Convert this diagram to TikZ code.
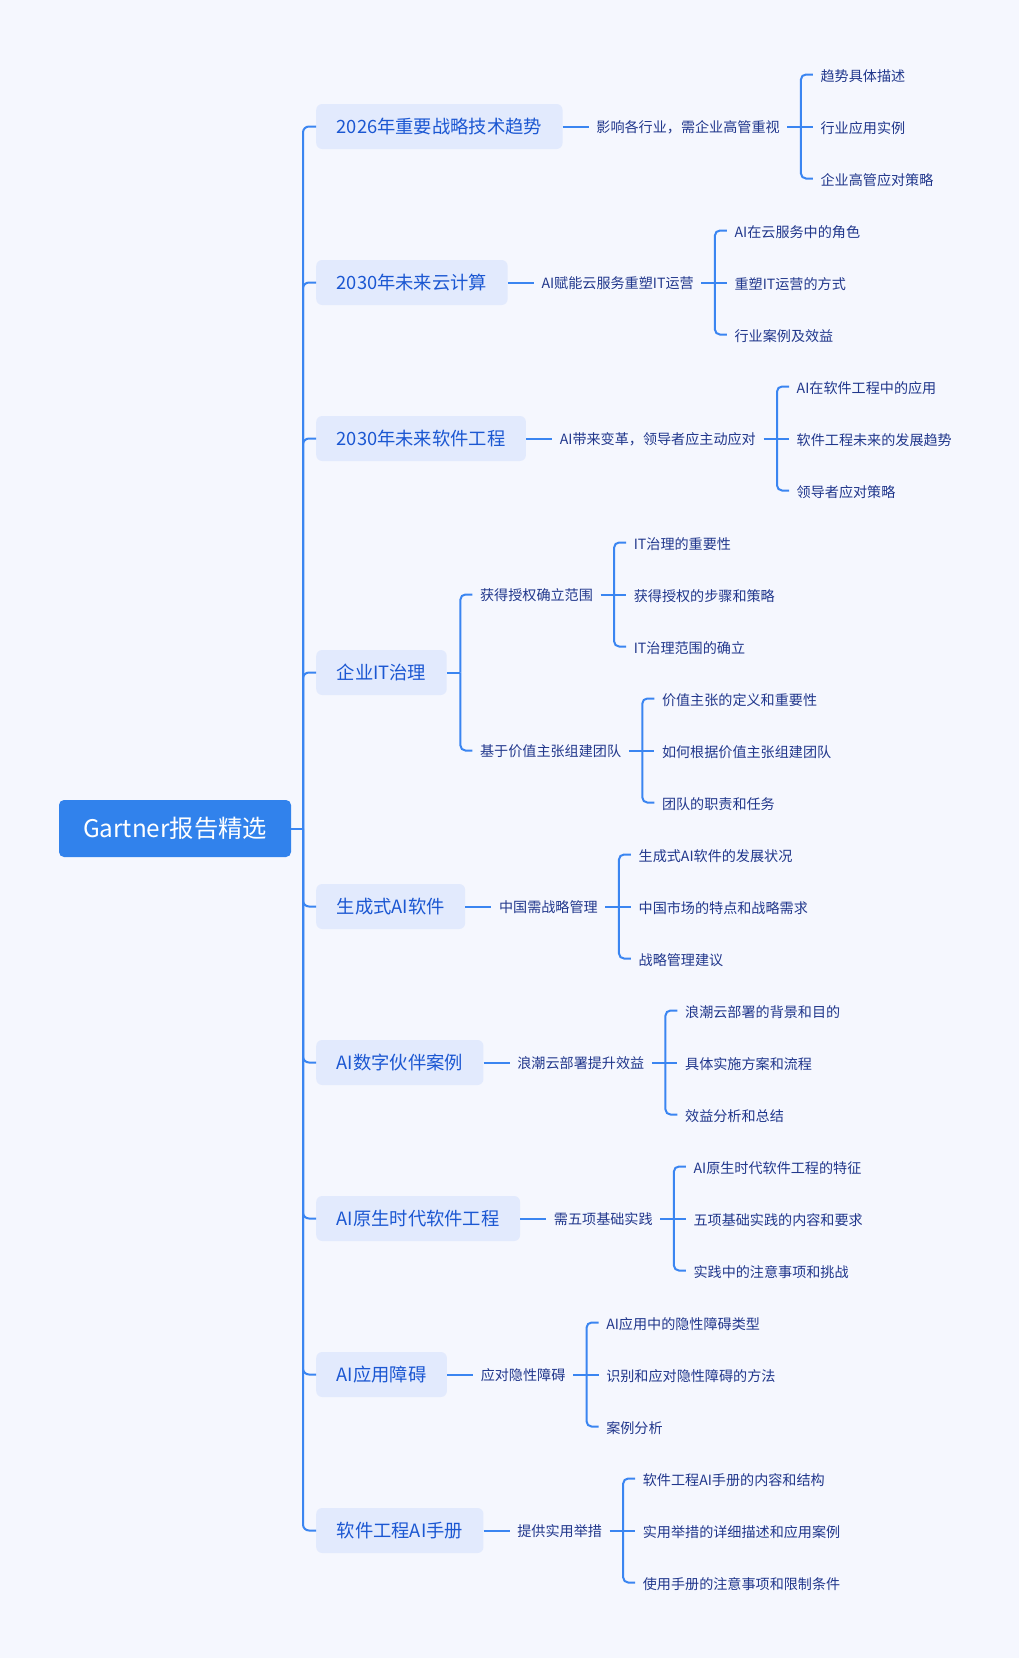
\documentclass[tikz,border=0pt]{standalone}
\usepackage{fontspec}
\setmainfont{Noto Sans CJK SC}
\usetikzlibrary{calc}
\definecolor{bgc}{HTML}{F5F7FE}
\definecolor{rootc}{HTML}{3182EC}
\definecolor{lonefill}{HTML}{E2EAFD}
\definecolor{lonetext}{HTML}{1B57D2}
\definecolor{leaftext}{HTML}{21378C}
\definecolor{linec}{HTML}{3A85F1}
\newcommand\mmleaves[4]{%
  \coordinate (#1k) at ($(#1.east)+(13.5,0)$);
  \node[leafnode, anchor=west] (#1x) at ($(#1k)+(12,-52)$) {#2};
  \node[leafnode, anchor=west] (#1y) at ($(#1k)+(12,0)$) {#3};
  \node[leafnode, anchor=west] (#1z) at ($(#1k)+(12,52)$) {#4};
  \draw[conn] (#1.east) -- (#1k);
  \draw[conn, rounded corners=5] (#1k) |- (#1x.west);
  \draw[conn] (#1k) -- (#1y.west);
  \draw[conn, rounded corners=5] (#1k) |- (#1z.west);
}
\newcommand\mmchain[6]{%
  \node[midnode, anchor=west] (#2) at ($(#1.east)+(26,0)$) {#3};
  \draw[conn] (#1.east) -- (#2.west);
  \mmleaves{#2}{#4}{#5}{#6}
}
\begin{document}
\begin{tikzpicture}[x=1pt,y=-1pt,
  conn/.style={draw=linec, line width=2pt},
  rootnode/.style={fill=rootc, rounded corners=5, minimum width=232, minimum height=57,
    inner sep=0, text=white, font=\fontsize{24.3}{28}\selectfont, text height=21.4pt, text depth=2.9pt},
  lonenode/.style={fill=lonefill, rounded corners=6, inner xsep=20.5, inner ysep=0, minimum height=45,
    text=lonetext, font=\fontsize{18.3}{22}\selectfont, text height=16.1pt, text depth=2.2pt},
  midnode/.style={inner xsep=7.5, inner ysep=2, text=leaftext, font=\fontsize{14.1}{17}\selectfont,
    text height=13.4pt, text depth=0.7pt},
  leafnode/.style={inner xsep=7.5, inner ysep=2, text=leaftext, font=\fontsize{14.1}{17}\selectfont,
    text height=14.2pt, text depth=0.5pt}]
\fill[bgc] (0,0) rectangle (1019,1658);
\useasboundingbox (0,0) rectangle (1019,1658);

\node[rootnode] (root) at (175,828.5) {Gartner报告精选};
\coordinate (bus) at (303,828.5);
\draw[conn] (root.east) -- (bus);

\node[lonenode, anchor=west] (b1) at (316,126.5) {2026年重要战略技术趋势};
\node[lonenode, anchor=west] (b2) at (316,282.5) {2030年未来云计算};
\node[lonenode, anchor=west] (b3) at (316,438.5) {2030年未来软件工程};
\node[lonenode, anchor=west] (b4) at (316,672.5) {企业IT治理};
\node[lonenode, anchor=west] (b5) at (316,906.5) {生成式AI软件};
\node[lonenode, anchor=west] (b6) at (316,1062.5) {AI数字伙伴案例};
\node[lonenode, anchor=west] (b7) at (316,1218.5) {AI原生时代软件工程};
\node[lonenode, anchor=west] (b8) at (316,1374.5) {AI应用障碍};
\node[lonenode, anchor=west] (b9) at (316,1530.5) {软件工程AI手册};

\foreach \b in {b1,b2,b3,b4,b5,b6,b7,b8,b9}
  \draw[conn, rounded corners=6] (bus) |- (\b.west);

\mmchain{b1}{m1}{影响各行业，需企业高管重视}{趋势具体描述}{行业应用实例}{企业高管应对策略}
\mmchain{b2}{m2}{AI赋能云服务重塑IT运营}{AI在云服务中的角色}{重塑IT运营的方式}{行业案例及效益}
\mmchain{b3}{m3}{AI带来变革，领导者应主动应对}{AI在软件工程中的应用}{软件工程未来的发展趋势}{领导者应对策略}

\coordinate (b4k) at ($(b4.east)+(13.5,0)$);
\node[midnode, anchor=west] (m4a) at ($(b4k)+(12,-78)$) {获得授权确立范围};
\node[midnode, anchor=west] (m4b) at ($(b4k)+(12,78)$) {基于价值主张组建团队};
\draw[conn] (b4.east) -- (b4k);
\draw[conn, rounded corners=5] (b4k) |- (m4a.west);
\draw[conn, rounded corners=5] (b4k) |- (m4b.west);
\mmleaves{m4a}{IT治理的重要性}{获得授权的步骤和策略}{IT治理范围的确立}
\mmleaves{m4b}{价值主张的定义和重要性}{如何根据价值主张组建团队}{团队的职责和任务}

\mmchain{b5}{m5}{中国需战略管理}{生成式AI软件的发展状况}{中国市场的特点和战略需求}{战略管理建议}
\mmchain{b6}{m6}{浪潮云部署提升效益}{浪潮云部署的背景和目的}{具体实施方案和流程}{效益分析和总结}
\mmchain{b7}{m7}{需五项基础实践}{AI原生时代软件工程的特征}{五项基础实践的内容和要求}{实践中的注意事项和挑战}
\mmchain{b8}{m8}{应对隐性障碍}{AI应用中的隐性障碍类型}{识别和应对隐性障碍的方法}{案例分析}
\mmchain{b9}{m9}{提供实用举措}{软件工程AI手册的内容和结构}{实用举措的详细描述和应用案例}{使用手册的注意事项和限制条件}
\end{tikzpicture}
\end{document}
